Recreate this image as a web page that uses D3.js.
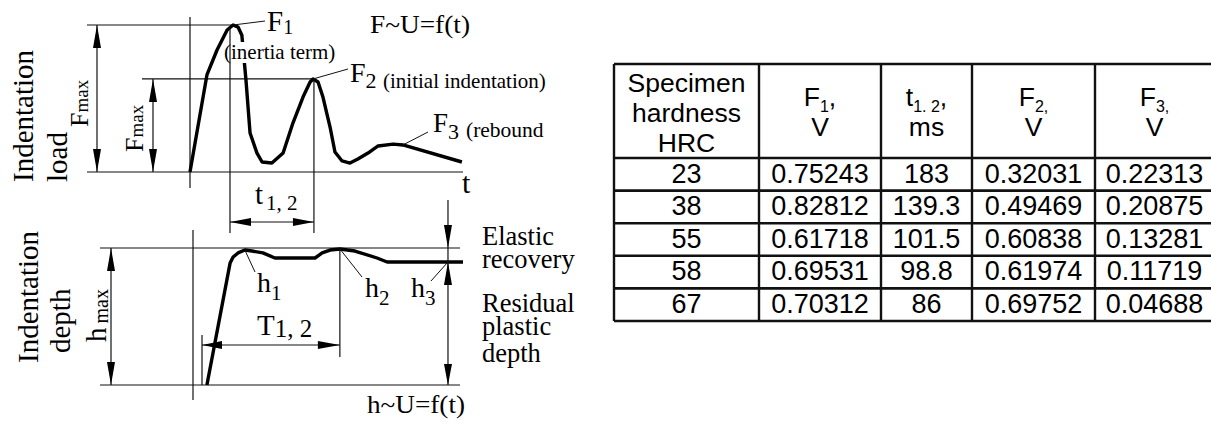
<!DOCTYPE html>
<html>
<head>
<meta charset="utf-8">
<script src="https://cdnjs.cloudflare.com/ajax/libs/d3/7.8.5/d3.min.js"></script>
<style>
  body { margin: 0; background: #fff; }
  svg { display: block; }
  .serif { font-family: "Liberation Serif", "Times New Roman", serif; fill: #000; }
  .sans { font-family: "Liberation Sans", Arial, sans-serif; fill: #000; }
</style>
</head>
<body>
<div id="wrapper"></div>
<script>
// load signal F(t): time in arbitrary units (0..100), F relative to F1
const loadTimes  = [0, 6.2, 9.9, 13.6, 15.8, 17.6, 19.0, 20.5, 22.0, 24.5, 26.4, 30.0, 34.1, 37.7, 41.4, 44.0, 45.1, 46.9, 48.7, 51.3, 53.1, 55.7, 58.6, 61.5, 65.2, 68.9, 74.4, 78.0, 99.6]
const loadValues = [0, 0.66, 0.83, 0.966, 1.0, 0.986, 0.93, 0.626, 0.265, 0.13, 0.068, 0.061, 0.129, 0.333, 0.51, 0.612, 0.633, 0.612, 0.51, 0.306, 0.136, 0.075, 0.061, 0.088, 0.129, 0.177, 0.19, 0.184, 0.068]

// depth signal h(t): h relative to h max
const depthTimes  = [5.1, 13.6, 14.7, 16.5, 19.0, 21.6, 25.6, 30.0, 44.7, 47.3, 50.2, 53.8, 59.3, 67.4, 71.1, 98.9]
const depthValues = [0, 0.891, 0.934, 0.964, 0.985, 0.978, 0.964, 0.927, 0.927, 0.964, 0.985, 0.993, 0.978, 0.927, 0.898, 0.898]

// marked points on the curves
const peakNames  = ["1", "2", "3"]
const peakTimes  = [15.8, 45.1, 78.0]
const peakValues = [1.0, 0.633, 0.184]
const depthMarkTimes  = [19.0, 53.8, 93.4]
const depthMarkValues = [0.985, 0.993, 0.898]
const t12Times = [14.65, 45.4]
const T12Times = [3.3, 53.8]

// table
const hardnessHRC = [23, 38, 55, 58, 67]
const f1Volts = [0.75243, 0.82812, 0.61718, 0.69531, 0.70312]
const t12ms   = [183, 139.3, 101.5, 98.8, 86]
const f2Volts = [0.32031, 0.49469, 0.60838, 0.61974, 0.69752]
const f3Volts = [0.22313, 0.20875, 0.13281, 0.11719, 0.04688]

async function drawDiagram() {

  // 1. Canvas
  const svg = d3.select("#wrapper")
    .append("svg")
      .attr("width", 1211)
      .attr("height", 424)

  const thin = { stroke: "#111", width: 1.2 }

  // 2. Scales
  const xLoad = d3.scaleLinear().domain([0, 100]).range([190, 463])
  const yLoad = d3.scaleLinear().domain([0, 1]).range([172, 25])
  const xDepth = d3.scaleLinear().domain([0, 100]).range([193, 466])
  const yDepth = d3.scaleLinear().domain([0, 1]).range([385, 248])

  // helpers
  function line(g, x1, y1, x2, y2, w) {
    return g.append("line")
      .attr("x1", x1).attr("y1", y1).attr("x2", x2).attr("y2", y2)
      .attr("stroke", thin.stroke)
      .attr("stroke-width", w || thin.width)
  }

  function arrow(g, x, y, dir, len = 22, half = 4) {
    const pts = {
      up:    [[x, y], [x - half, y + len], [x + half, y + len]],
      down:  [[x, y], [x - half, y - len], [x + half, y - len]],
      left:  [[x, y], [x + len, y - half], [x + len, y + half]],
      right: [[x, y], [x - len, y - half], [x - len, y + half]],
    }[dir]
    g.append("path")
      .attr("d", d3.line()(pts) + "Z")
      .attr("fill", "#000")
  }

  function richText(g, x, y, parts, rotate, cls = "serif") {
    const text = g.append("text")
      .attr("class", cls)
      .attr("transform", `translate(${x},${y})${rotate ? " rotate(-90)" : ""}`)
    parts.forEach(p => {
      text.append("tspan")
        .attr("font-size", p.size)
        .attr("dx", p.dx || 0)
        .attr("dy", p.dy || 0)
        .text(p.text)
    })
    return text
  }

  // 3. Load panel
  const load = svg.append("g")
  const loadData = loadTimes.map((t, i) => ({ t, v: loadValues[i] }))

  // reference lines
  line(load, 87, yLoad(0), xLoad(100), yLoad(0))
  line(load, 87, yLoad(peakValues[0]), xLoad(peakTimes[0]), yLoad(peakValues[0]))
  line(load, 142, yLoad(peakValues[1]), xLoad(peakTimes[1]), yLoad(peakValues[1]))
  line(load, xLoad(0), 17, xLoad(0), 188)

  // curve
  load.append("path")
    .attr("d", d3.line().x(d => xLoad(d.t)).y(d => yLoad(d.v))(loadData))
    .attr("fill", "none")
    .attr("stroke", "#000")
    .attr("stroke-width", 3.4)
    .attr("stroke-linejoin", "round")

  // label masking the curve
  load.append("rect")
    .attr("x", 224).attr("y", 42).attr("width", 113).attr("height", 21)
    .attr("fill", "#fff")
  richText(load, 224, 59, [{ text: "(inertia term)", size: 21 }])

  // t1,2 extension lines and dimension
  line(load, xLoad(t12Times[0]), 28, xLoad(t12Times[0]), 233)
  line(load, xLoad(t12Times[1]), yLoad(peakValues[1]), xLoad(t12Times[1]), 233)
  line(load, xLoad(t12Times[0]), 222, xLoad(t12Times[1]), 222)
  arrow(load, xLoad(t12Times[0]), 222, "left", 21)
  arrow(load, xLoad(t12Times[1]), 222, "right", 21)
  richText(load, 255, 204, [
    { text: "t", size: 29 },
    { text: "1, 2", size: 21, dx: 3, dy: 6 },
  ])

  // Fmax dimensions
  line(load, 97, yLoad(1), 97, yLoad(0))
  arrow(load, 97, yLoad(1), "up", 23)
  arrow(load, 97, yLoad(0), "down", 23)
  line(load, 153, yLoad(peakValues[1]), 153, yLoad(0))
  arrow(load, 153, yLoad(peakValues[1]), "up", 23)
  arrow(load, 153, yLoad(0), "down", 23)

  richText(load, 33, 182, [{ text: "Indentation", size: 29 }], true)
  richText(load, 67, 182, [{ text: "load", size: 29 }], true)
  richText(load, 88, 127, [{ text: "F", size: 26 }, { text: "max", size: 19 }], true)
  richText(load, 143, 152, [{ text: "F", size: 26 }, { text: "max", size: 19 }], true)

  // peak leaders and labels
  const leaderEnds = [[265, 21], [348, 69], [428, 132]]
  const labelPos = [[267, 31], [350, 82], [433, 132]]
  const labelSize = [29, 28, 27]
  const subShift = [3, 6, 7]
  peakTimes.forEach((t, i) => {
    line(load, xLoad(t), yLoad(peakValues[i]), leaderEnds[i][0], leaderEnds[i][1], 1)
    richText(load, labelPos[i][0], labelPos[i][1], [
      { text: "F", size: labelSize[i] },
      { text: peakNames[i], size: i === 0 ? 20 : 22, dy: subShift[i] },
    ])
  })
  richText(load, 383, 88, [{ text: "(initial indentation)", size: 21 }])
  richText(load, 466, 137, [{ text: "(rebound", size: 21.5 }])
  richText(load, 370, 33, [{ text: "F~U=f(t)", size: 26 }])
    .attr("textLength", 100).attr("lengthAdjust", "spacingAndGlyphs")
  richText(load, 462, 193, [{ text: "t", size: 30 }])

  // 4. Depth panel
  const depth = svg.append("g")
  const depthData = depthTimes.map((t, i) => ({ t, v: depthValues[i] }))

  line(depth, 100, yDepth(1), 460, yDepth(1))
  line(depth, 100, yDepth(0), 460, yDepth(0))
  line(depth, xDepth(0), 230, xDepth(0), 400)

  depth.append("path")
    .attr("d", d3.line().x(d => xDepth(d.t)).y(d => yDepth(d.v))(depthData))
    .attr("fill", "none")
    .attr("stroke", "#000")
    .attr("stroke-width", 3.4)
    .attr("stroke-linejoin", "round")

  // h max dimension
  line(depth, 111, yDepth(1), 111, yDepth(0))
  arrow(depth, 111, yDepth(1), "up", 23)
  arrow(depth, 111, yDepth(0), "down", 23)

  // T1,2 dimension
  line(depth, xDepth(T12Times[0]), 335, xDepth(T12Times[0]), yDepth(0))
  line(depth, xDepth(T12Times[1]), yDepth(depthMarkValues[1]), xDepth(T12Times[1]), 357)
  line(depth, xDepth(T12Times[0]), 345, xDepth(T12Times[1]), 345)
  arrow(depth, xDepth(T12Times[0]), 345, "left", 20)
  arrow(depth, xDepth(T12Times[1]), 345, "right", 22)
  richText(depth, 257, 335, [
    { text: "T", size: 29 },
    { text: "1, 2", size: 25, dy: 2 },
  ])

  // elastic recovery / residual depth dimension
  const xr = xDepth(depthMarkTimes[2])
  line(depth, xr, 200, xr, yDepth(0))
  arrow(depth, xr, yDepth(1), "down", 23)
  arrow(depth, xr, yDepth(depthMarkValues[2]), "up", 23)
  arrow(depth, xr, yDepth(0), "down", 21)

  // h1..h3 leaders
  const hEnds = [[255, 272], [362, 277], [431, 281]]
  const hPos = [[257, 292], [365, 297], [411, 297]]
  depthMarkTimes.forEach((t, i) => {
    line(depth, xDepth(t), yDepth(depthMarkValues[i]), hEnds[i][0], hEnds[i][1], 1)
    richText(depth, hPos[i][0], hPos[i][1], [
      { text: "h", size: 28 },
      { text: String(i + 1), size: 21, dy: 8 },
    ])
  })

  richText(depth, 38, 363, [{ text: "Indentation", size: 29 }], true)
  richText(depth, 70, 353, [{ text: "depth", size: 29 }], true)
  richText(depth, 106, 342, [{ text: "h", size: 29 }, { text: "max", size: 20, dx: 4, dy: 2 }], true)

  const notes = [["Elastic", 245], ["recovery", 268], ["Residual", 312], ["plastic", 335], ["depth", 362]]
  notes.forEach(([s, y]) => richText(depth, 482, y, [{ text: s, size: 26.5 }]))
  richText(depth, 367, 413, [{ text: "h~U=f(t)", size: 26 }])
    .attr("textLength", 98).attr("lengthAdjust", "spacingAndGlyphs")

  // 5. Table
  const table = svg.append("g")
  const colEdges = [614, 759, 881, 972, 1095, 1214]
  const tableTop = 64
  const headBottom = 158
  const yRow = d3.scaleLinear().domain([0, hardnessHRC.length]).range([headBottom, 321])
  const colMid = i => (colEdges[i] + colEdges[i + 1]) / 2

  const header = [
    [[{ text: "Specimen" }], [{ text: "hardness" }], [{ text: "HRC" }]],
    [[{ text: "F" }, { text: "1", sub: true }, { text: "," }], [{ text: "V" }]],
    [[{ text: "t" }, { text: "1. 2", sub: true }, { text: "," }], [{ text: "ms" }]],
    [[{ text: "F" }, { text: "2,", sub: true }], [{ text: "V" }]],
    [[{ text: "F" }, { text: "3,", sub: true }], [{ text: "V" }]],
  ]
  header.forEach((lines, c) => {
    const base = lines.length === 3 ? 92 : 106
    lines.forEach((parts, li) => {
      const text = table.append("text")
        .attr("class", "sans")
        .attr("x", colMid(c))
        .attr("y", base + li * 30)
        .attr("text-anchor", "middle")
        .attr("font-size", 26.5)
      let shifted = false
      parts.forEach(p => {
        const ts = text.append("tspan").text(p.text)
        if (p.sub) { ts.attr("font-size", 16).attr("dy", 6); shifted = true }
        else if (shifted) { ts.attr("dy", -6); shifted = false }
      })
    })
  })

  const rows = hardnessHRC.map((h, i) => [h, f1Volts[i], t12ms[i], f2Volts[i], f3Volts[i]])
  table.selectAll("g.row")
    .data(rows)
    .join("g")
      .attr("class", "row")
    .selectAll("text")
    .data((d, i) => d.map((v, c) => ({ v, c, i })))
    .join("text")
      .attr("class", "sans")
      .attr("x", d => colMid(d.c))
      .attr("y", d => yRow(d.i) + 24.5)
      .attr("text-anchor", "middle")
      .attr("font-size", 27)
      .text(d => d.v)

  // grid lines
  d3.range(hardnessHRC.length + 1).forEach(i => {
    line(table, colEdges[0], yRow(i), colEdges[5], yRow(i), 2.6)
  })
  line(table, colEdges[0], tableTop, colEdges[5], tableTop, 2.6)
  colEdges.forEach(x => line(table, x, tableTop, x, yRow(hardnessHRC.length), 2.4))
}
drawDiagram()
</script>
</body>
</html>
